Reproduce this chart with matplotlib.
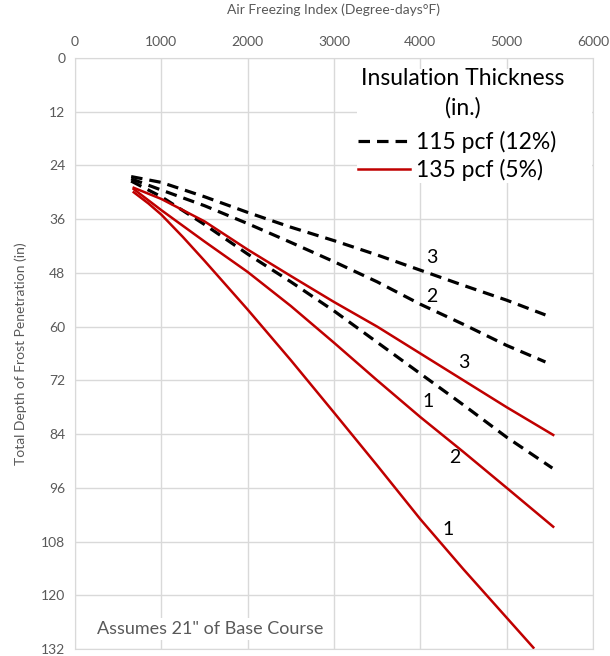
import matplotlib
matplotlib.use('Agg')
import matplotlib.pyplot as plt
from matplotlib.lines import Line2D
from matplotlib.patches import Rectangle

plt.rcParams['font.family'] = ['Lato', 'DejaVu Sans']

# 115 pcf (12%) curves, dashed black
d1_x = [650, 1000, 1500, 2000, 2500, 3000, 3500, 4000, 4500, 5000, 5530]
d1_y = [27.5, 31.0, 37.2, 43.8, 50.0, 56.5, 63.5, 70.5, 77.5, 84.7, 91.6]
d2_x = [650, 1000, 1500, 2000, 2500, 3000, 3500, 4000, 4500, 5000, 5450]
d2_y = [27.0, 29.5, 33.0, 37.0, 41.2, 45.5, 50.0, 55.0, 59.5, 64.2, 67.9]
d3_x = [650, 1000, 1500, 2000, 2500, 3000, 3500, 4000, 4500, 5000, 5450]
d3_y = [26.5, 27.8, 31.0, 34.5, 37.8, 40.8, 44.0, 47.4, 50.8, 54.1, 57.4]

# 135 pcf (5%) curves, solid red
r1_x = [680, 850, 1000, 1250, 1500, 2000, 2500, 3000, 3500, 4000, 4500, 5000, 5310]
r1_y = [30.0, 32.5, 35.0, 40.0, 45.3, 56.2, 67.5, 79.2, 91.0, 103.0, 114.2, 125.0, 131.7]
r2_x = [680, 1000, 1500, 2000, 2500, 3000, 3500, 4000, 4500, 5000, 5540]
r2_y = [29.3, 34.0, 41.0, 47.8, 55.4, 63.6, 72.0, 80.2, 88.0, 96.0, 104.7]
r3_x = [680, 1000, 1500, 2000, 2500, 3000, 3500, 4000, 4500, 5000, 5540]
r3_y = [29.0, 31.5, 36.5, 42.8, 48.7, 54.5, 60.0, 66.0, 72.0, 78.0, 84.2]

# curve labels: text, x, y
labels = [('3', 4137, 44.5), ('2', 4137, 53.2), ('1', 4090, 76.8),
          ('3', 4507, 68.1), ('2', 4403, 89.3), ('1', 4322, 105.4)]

x_ticks = [0, 1000, 2000, 3000, 4000, 5000, 6000]
y_ticks = [0, 12, 24, 36, 48, 60, 72, 84, 96, 108, 120, 132]

grey = '#595959'
grid = '#D9D9D9'
red = '#C00000'

fig = plt.figure(figsize=(6.1, 6.56), dpi=100)
ax = fig.add_axes([0.123, 0.0107, 0.849, 0.901])

dash = (0, (3.6, 2.2))
for xs, ys in [(d1_x, d1_y), (d2_x, d2_y), (d3_x, d3_y)]:
    ax.plot(xs, ys, color='black', lw=2.3, linestyle=dash, zorder=3)
for xs, ys in [(r1_x, r1_y), (r2_x, r2_y), (r3_x, r3_y)]:
    ax.plot(xs, ys, color=red, lw=1.8, zorder=3)

for t, x, y in labels:
    ax.text(x, y, t, fontsize=14, ha='center', va='center', color='black', zorder=4)

ax.set_xlim(0, 6000)
ax.set_ylim(132, 0)
ax.set_xticks(x_ticks)
ax.set_yticks(y_ticks)
ax.xaxis.tick_top()
ax.xaxis.set_label_position('top')
ax.tick_params(length=0, labelsize=10, colors=grey, pad=7)
ax.set_xlabel('Air Freezing Index (Degree-days°F)', fontsize=10, color=grey, labelpad=16)
ax.set_ylabel('Total Depth of Frost Penetration (in)', fontsize=10, color=grey, labelpad=10)
ax.grid(True, color=grid, lw=1)
ax.set_axisbelow(True)
for s in ax.spines.values():
    s.set_color(grid)

# white block behind the legend
ax.add_patch(Rectangle((0.544, 0.788), 0.454, 0.194, transform=ax.transAxes,
                       facecolor='white', edgecolor='none', zorder=2))
ax.text(0.749, 0.940, 'Insulation Thickness\n(in.)', transform=ax.transAxes,
        fontsize=16.5, ha='center', va='center', linespacing=1.45, zorder=4)

handles = [Line2D([], [], color='black', lw=2.3, linestyle=dash),
           Line2D([], [], color=red, lw=1.8)]
leg = ax.legend(handles, ['115 pcf (12%)', '135 pcf (5%)'], fontsize=16.5,
                loc='upper left', bbox_to_anchor=(0.546, 0.876), frameon=False,
                handlelength=2.27, handletextpad=0.26, labelspacing=0.24,
                borderpad=0, borderaxespad=0)

ax.text(255, 127.5, 'Assumes 21" of Base Course', fontsize=13, color=grey,
        ha='left', va='center', zorder=4,
        bbox=dict(facecolor='white', edgecolor='none', pad=2))

fig.savefig('out.png', dpi=100)
